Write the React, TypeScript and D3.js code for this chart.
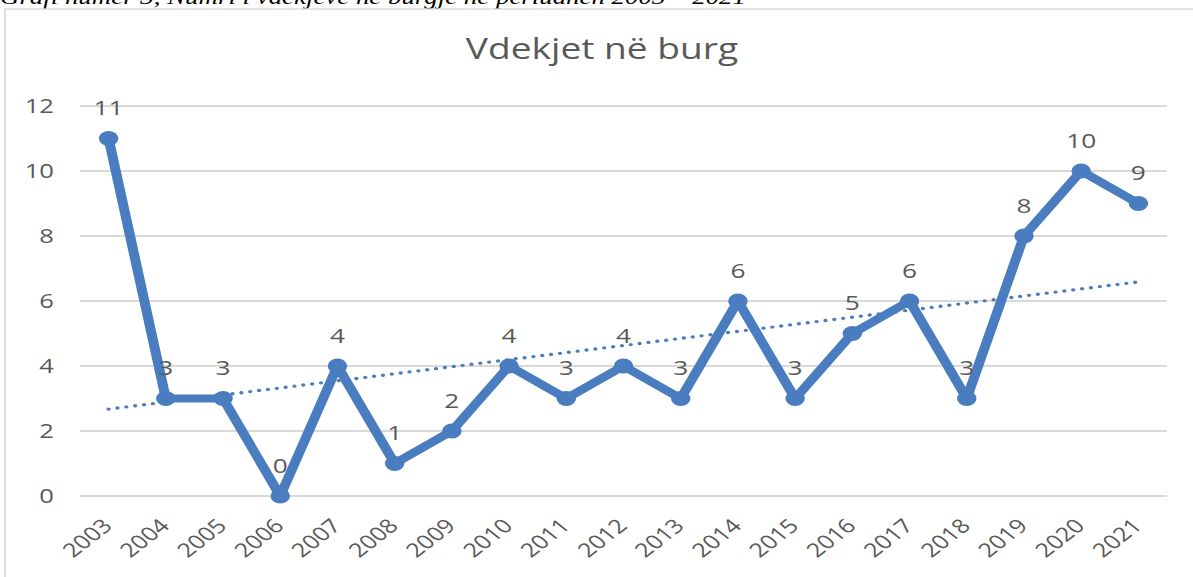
import React from "react";
import * as d3 from "d3";

const years = ["2003","2004","2005","2006","2007","2008","2009","2010","2011","2012","2013","2014","2015","2016","2017","2018","2019","2020","2021"];
const deaths = [11,3,3,0,4,1,2,4,3,4,3,6,3,5,6,3,8,10,9];
const yTicks = [0,2,4,6,8,10,12];
const title = "Vdekjet në burg";
const caption = "Grafi numër 3, Numri i vdekjeve në burgje në periudhën 2003 – 2021";

const W = 1193;
const H = 577;
const S = 1.28; // horizontal stretch of the picture
const BLUE = "#4a7dbf";
const GRAY = "#595959";
const GRID = "#d9d9d9";
const FONT = "'Open Sans', sans-serif";

export default function App() {
  const x = d3.scaleBand<string>().domain(years).range([80 / S, 1167 / S]);
  const y = d3.scaleLinear().domain([0, 12]).range([496, 106]);
  const cx = (yr: string) => (x(yr) as number) + x.bandwidth() / 2;

  // linear trend line (least squares)
  const n = deaths.length;
  const idx = deaths.map((_, i) => i);
  const mx = d3.mean(idx) as number;
  const my = d3.mean(deaths) as number;
  const sxy = d3.sum(idx, (i) => (i - mx) * (deaths[i] - my));
  const sxx = d3.sum(idx, (i) => (i - mx) * (i - mx));
  const slope = sxy / sxx;
  const icpt = my - slope * mx;
  const trendPts: [number, number][] = [
    [cx(years[0]), y(icpt)],
    [cx(years[n - 1]), y(icpt + slope * (n - 1))],
  ];

  const line = d3
    .line<number>()
    .x((_, i) => cx(years[i]))
    .y((d) => y(d));

  const x0 = 80 / S;
  const x1 = 1167 / S;

  return (
    <svg
      width={W}
      height={H}
      style={{ position: "absolute", left: 0, top: 0, display: "block", background: "#fff" }}
    >
      <g transform={`scale(${S},1)`}>
        <text x={0} y={4} fontFamily="'Liberation Serif', serif" fontStyle="italic" fontSize={21} fill="#000">
          {caption}
        </text>
        <rect x={5 / S} y={9} width={W} height={H} fill="#fff" stroke={GRID} strokeWidth={1.4} />
        <text x={602 / S} y={59} textAnchor="middle" fontFamily={FONT} fontSize={29} fill={GRAY}>
          {title}
        </text>
        {yTicks.map((t) => (
          <g key={t}>
            <line x1={x0} x2={x1} y1={y(t)} y2={y(t)} stroke={GRID} strokeWidth={2} />
            <text x={54 / S} y={y(t)} dy="0.36em" textAnchor="end" fontFamily={FONT} fontSize={20} fill={GRAY}>
              {t}
            </text>
          </g>
        ))}
        {years.map((yr) => (
          <text
            key={yr}
            transform={`translate(${cx(yr) + 5 / S},${527}) rotate(-45)`}
            textAnchor="end"
            fontFamily={FONT}
            fontSize={19.5}
            fill={GRAY}
          >
            {yr}
          </text>
        ))}
        <line
          x1={trendPts[0][0]}
          y1={trendPts[0][1]}
          x2={trendPts[1][0]}
          y2={trendPts[1][1]}
          stroke={BLUE}
          strokeWidth={3.4}
          strokeLinecap="round"
          strokeDasharray="0 7"
        />
        <path d={line(deaths) || ""} fill="none" stroke={BLUE} strokeWidth={7.8} strokeLinejoin="round" />
        {deaths.map((d, i) => (
          <circle key={i} cx={cx(years[i])} cy={y(d)} r={7.6} fill={BLUE} />
        ))}
        {deaths.map((d, i) => (
          <text
            key={"l" + i}
            x={cx(years[i])}
            y={y(d) - 23}
            textAnchor="middle"
            fontFamily={FONT}
            fontSize={20.5}
            fill={GRAY}
          >
            {d}
          </text>
        ))}
      </g>
    </svg>
  );
}
